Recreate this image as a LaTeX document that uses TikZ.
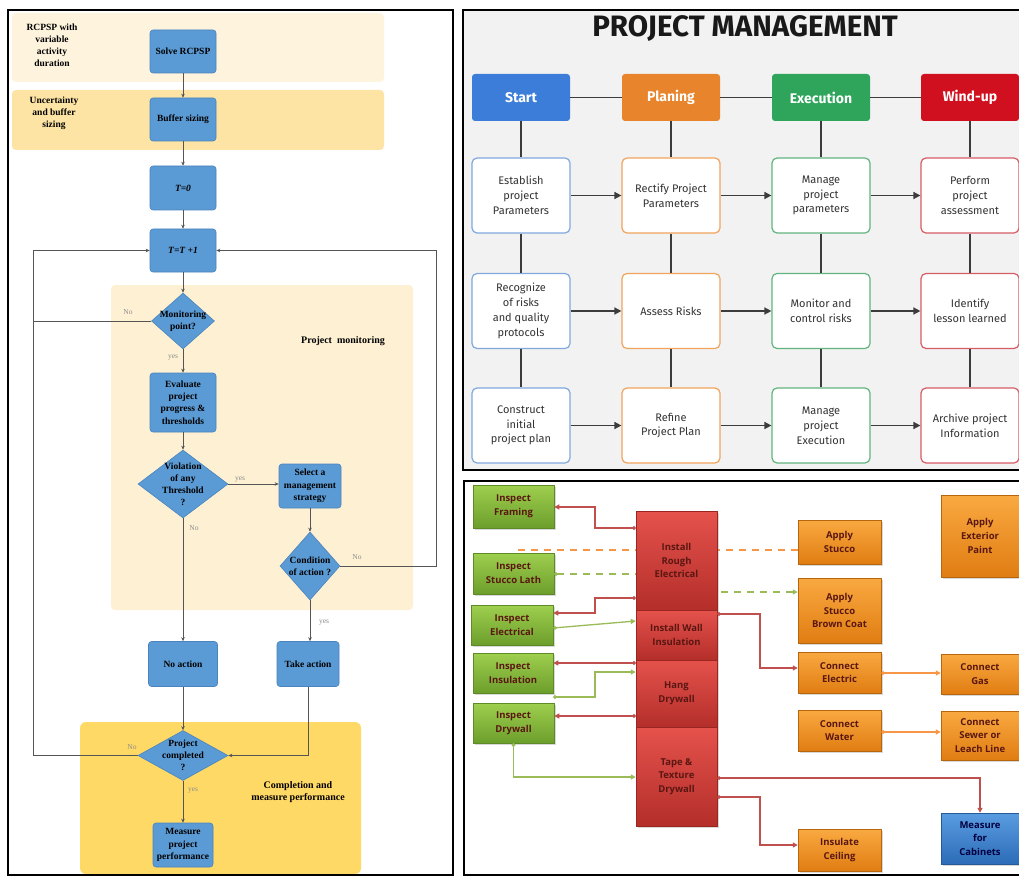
\documentclass[tikz,border=0pt]{standalone}
\usepackage{fontspec}
\setmainfont{Liberation Serif}
\newfontfamily\fira{Fira Sans}
\newfontfamily\osans{Open Sans}
\usetikzlibrary{shapes.geometric,arrows.meta,shadows}
\definecolor{lblue}{HTML}{5B9BD5}
\definecolor{lblueb}{HTML}{4A84BE}
\definecolor{bandA}{HTML}{FEF4DE}
\definecolor{bandB}{HTML}{FDE4A4}
\definecolor{bandC}{HTML}{FEF1D3}
\definecolor{bandD}{HTML}{FFD966}
\definecolor{lline}{HTML}{555555}
\definecolor{lgray}{HTML}{8C8C8C}
\definecolor{pmbg}{HTML}{F2F2F2}
\definecolor{cBlue}{HTML}{3B7DD8}
\definecolor{cOrange}{HTML}{E8842B}
\definecolor{cGreen}{HTML}{2FA55C}
\definecolor{cRed}{HTML}{D0101E}
\definecolor{bBlue}{HTML}{7FA8DE}
\definecolor{bOrange}{HTML}{F0A45C}
\definecolor{bGreen}{HTML}{62B47E}
\definecolor{bRed}{HTML}{D65C64}
\definecolor{pmline}{HTML}{3C3C3C}
\definecolor{pmtext}{HTML}{333333}
\definecolor{gTop}{HTML}{9FCF4E}
\definecolor{gBot}{HTML}{6C9E2C}
\definecolor{gBord}{HTML}{5E8A28}
\definecolor{rTop}{HTML}{E5524C}
\definecolor{rBot}{HTML}{B42E2A}
\definecolor{rBord}{HTML}{9A2622}
\definecolor{oTop}{HTML}{F9A941}
\definecolor{oBot}{HTML}{E07D12}
\definecolor{oBord}{HTML}{B8660E}
\definecolor{bTop}{HTML}{5A9CE0}
\definecolor{bBot}{HTML}{2C6CB8}
\definecolor{bBord}{HTML}{245A9A}
\definecolor{btxt}{HTML}{5A1712}
\definecolor{rcon}{HTML}{C0504D}
\definecolor{gcon}{HTML}{9BBB59}
\definecolor{ocon}{HTML}{F79646}
\tikzset{
  lbox/.style={rectangle, rounded corners=3pt, fill=lblue, draw=lblueb, line width=0.6pt,
    minimum width=66pt, minimum height=44pt, align=center, inner sep=1pt,
    font=\bfseries\fontsize{9.5}{12.3}\selectfont},
  ldia/.style={diamond, fill=lblue, draw=lblueb, line width=0.6pt, inner sep=0pt},
  ltxt/.style={align=center, inner sep=0pt, font=\bfseries\fontsize{9.5}{12}\selectfont},
  llab/.style={text=lgray, font=\fontsize{7.5}{8}\selectfont, inner sep=0pt},
  lcon/.style={draw=lline, line width=0.8pt, -{Stealth[length=4pt,width=3.5pt]}},
  hdr/.style={rectangle, rounded corners=3pt, minimum width=98pt, minimum height=47pt,
    text=white, font=\fira\bfseries\fontsize{14}{16}\selectfont},
  rbox/.style={rectangle, rounded corners=5pt, fill=white, line width=1.2pt,
    minimum width=98pt, minimum height=75pt, align=center, text=pmtext,
    font=\fira\fontsize{11}{14.8}\selectfont},
  pmcon/.style={draw=pmline, line width=1.6pt},
  pmarr/.style={draw=pmline, line width=1.6pt, -{Triangle[length=7pt,width=7pt]}},
  wbox/.style={rectangle, line width=0.5pt, align=center, inner sep=0pt, text=btxt,
    font=\osans\bfseries\fontsize{9.5}{13.8}\selectfont,
    drop shadow={opacity=0.3, shadow xshift=1.5pt, shadow yshift=-1.5pt}},
  gbox/.style={wbox, top color=gTop, bottom color=gBot, draw=gBord},
  rbx/.style={wbox, top color=rTop, bottom color=rBot, draw=rBord},
  obox/.style={wbox, top color=oTop, bottom color=oBot, draw=oBord},
  bbox/.style={wbox, top color=bTop, bottom color=bBot, draw=bBord},
  rl/.style={draw=rcon, line width=1.3pt, {Circle[length=3.5pt]}-{Triangle[length=5pt,width=5pt]}},
  gl/.style={draw=gcon, line width=1.3pt, {Circle[length=3.5pt]}-{Triangle[length=5pt,width=5pt]}},
  ol/.style={draw=ocon, line width=1.3pt, {Circle[length=3.5pt]}-{Triangle[length=5pt,width=5pt]}},
}
\begin{document}
\begin{tikzpicture}[x=1pt,y=-1pt]
\useasboundingbox (0,0) rectangle (1019,877);
\fill[white] (0,0) rectangle (1019,877);

% ================= LEFT PANEL =================
\fill[bandA, rounded corners=4pt] (12,13) rectangle (384,82);
\fill[bandB, rounded corners=4pt] (12,90) rectangle (384,150);
\fill[bandC, rounded corners=4pt] (111,285) rectangle (413,610);
\fill[bandD, rounded corners=6pt] (80,722) rectangle (361,874);

\node[ltxt] (lab1) at (52,45) {RCPSP with\\variable\\activity\\duration};
\node[ltxt] (lab2) at (54,113) {Uncertainty\\and buffer\\sizing};
\node[ltxt, font=\bfseries\fontsize{10}{12}\selectfont] (lab3) at (343,341) {Project\ \ monitoring};
\node[ltxt, font=\bfseries\fontsize{10}{12}\selectfont] (lab4) at (298,792) {Completion and\\measure performance};

\node[lbox, minimum height=43pt] (solve) at (183,51.5) {Solve RCPSP};
\node[lbox, minimum height=43pt] (buf) at (183,119.5) {Buffer sizing};
\node[lbox] (t0) at (183,188) {\itshape T=0};
\node[lbox, minimum height=43pt] (tt) at (183,250.5) {\itshape T=T +1};
\node[ldia, minimum width=63pt, minimum height=56pt] (mon) at (183,321) {};
\node[ltxt] (mont) at (mon) {Monitoring\\point?};
\node[lbox, minimum height=59pt] (eval) at (183,402.5) {Evaluate\\project\\progress \&\\thresholds};
\node[ldia, minimum width=90pt, minimum height=68pt] (viol) at (183,484) {};
\node[ltxt] (violt) at (viol) {Violation\\of any\\Threshold\\?};
\node[lbox, minimum width=62pt, minimum height=44pt] (sel) at (310,486) {Select a\\management\\strategy};
\node[ldia, minimum width=60pt, minimum height=68pt] (cond) at (310,566) {};
\node[ltxt] (condt) at (cond) {Condition\\of action ?};
\node[lbox, minimum width=69pt, minimum height=45pt] (noact) at (183,664) {No action};
\node[lbox, minimum width=62pt, minimum height=45pt] (take) at (308,664) {Take action};
\node[ldia, minimum width=90pt, minimum height=50pt] (pc) at (183,755.5) {};
\node[ltxt] (pct) at (pc) {Project\\completed\\?};
\node[lbox, minimum width=60pt, minimum height=44pt] (meas) at (183,845) {Measure\\project\\performance};

\draw[lcon] (solve) -- (buf);
\draw[lcon] (buf) -- (t0);
\draw[lcon] (t0) -- (tt);
\draw[lcon] (tt) -- (mon);
\draw[lcon] (mon) -- (eval);
\draw[lcon] (eval) -- (viol);
\draw[lcon] (viol) -- (sel.west |- viol);
\draw[lcon] (sel) -- (cond);
\draw[lcon] (cond) -- (take.north -| cond);
\draw[lcon] (viol) -- (noact);
\draw[lcon] (noact) -- (pc);
\draw[lcon] (take.south) |- (pc.east);
\draw[lcon] (pc) -- (meas);
\coordinate (LL) at (33,755.5);
\coordinate (LM) at (33,321);
\coordinate (RR) at (436,566);
\draw[lcon] (pc.west) -- (LL) |- (tt.west);
\draw[lcon, -] (mon.west) -- (LM);
\draw[lcon] (cond.east) -- (RR) |- (tt.east);

\node[llab] (n1) at (128,312) {No};
\node[llab] (y1) at (173,358) {yes};
\node[llab] (y2) at (240,480) {yes};
\node[llab] (n2) at (194,528) {No};
\node[llab] (n3) at (357,557) {No};
\node[llab] (y3) at (324,623) {yes};
\node[llab] (n4) at (132,747) {No};
\node[llab] (y4) at (193,791) {yes};

\draw[line width=2.2pt] (8,10) rectangle (453,875);

% ================= TOP RIGHT PANEL =================
\draw[fill=pmbg, line width=2.2pt] (463,10) rectangle (1030,470);
\node[font=\fira\bfseries\fontsize{29.5}{32}\selectfont, text=black!90] (title) at (745,29) {PROJECT MANAGEMENT};

\node[hdr, fill=cBlue] (h1) at (521,97.5) {Start};
\node[hdr, fill=cOrange] (h2) at (671,97.5) {Planing};
\node[hdr, fill=cGreen] (h3) at (821,97.5) {Execution};
\node[hdr, fill=cRed] (h4) at (970,97.5) {Wind-up};

\node[rbox, draw=bBlue] (a1) at (521,195.5) {Establish\\project\\Parameters};
\node[rbox, draw=bBlue] (a2) at (521,311) {Recognize\\of risks\\and quality\\protocols};
\node[rbox, draw=bBlue] (a3) at (521,425.5) {Construct\\initial\\project plan};
\node[rbox, draw=bOrange] (b1) at (671,195.5) {Rectify Project\\Parameters};
\node[rbox, draw=bOrange] (b2) at (671,311) {Assess Risks};
\node[rbox, draw=bOrange] (b3) at (671,425.5) {Refine\\Project Plan};
\node[rbox, draw=bGreen] (c1) at (821,195.5) {Manage\\project\\parameters};
\node[rbox, draw=bGreen] (c2) at (821,311) {Monitor and\\control risks};
\node[rbox, draw=bGreen] (c3) at (821,425.5) {Manage\\project\\Execution};
\node[rbox, draw=bRed] (d1) at (970,195.5) {Perform\\project\\assessment};
\node[rbox, draw=bRed] (d2) at (970,311) {Identify\\lesson learned};
\node[rbox, draw=bRed] (d3) at (970,425.5) {Archive project\\Information};

\draw[pmcon] (h1) -- (h2);
\draw[pmcon] (h2) -- (h3);
\draw[pmcon] (h3) -- (h4);
\foreach \c in {a,b,c,d}{
  \draw[pmcon] (\c1) -- (\c2);
  \draw[pmcon] (\c2) -- (\c3);
}
\draw[pmcon] (h1) -- (a1);
\draw[pmcon] (h2) -- (b1);
\draw[pmcon] (h3) -- (c1);
\draw[pmcon] (h4) -- (d1);
\foreach \r in {1,2,3}{
  \draw[pmarr] (a\r) -- (b\r);
  \draw[pmarr] (b\r) -- (c\r);
  \draw[pmarr] (c\r) -- (d\r);
}

% ================= BOTTOM RIGHT PANEL =================
\draw[line width=2.2pt] (464,481) rectangle (1030,875);

\node[gbox, minimum width=81pt, minimum height=43pt] (ifr) at (513.5,506.5) {Inspect\\Framing};
\node[gbox, minimum width=81pt, minimum height=41pt] (isl) at (513.5,573.5) {Inspect\\Stucco Lath};
\node[gbox, minimum width=82pt, minimum height=40pt] (iel) at (512,625) {Inspect\\Electrical};
\node[gbox, minimum width=80pt, minimum height=40pt] (iin) at (513,673) {Inspect\\Insulation};
\node[gbox, minimum width=81pt, minimum height=40pt] (idw) at (513.5,723) {Inspect\\Drywall};

% dashed links passing behind the red column
\coordinate (odl) at (518,550);
\node[obox, minimum width=83pt, minimum height=44pt] (ast) at (839.5,542) {Apply\\Stucco};
\node[obox, minimum width=83pt, minimum height=65pt] (asb) at (839.5,610.5) {Apply\\Stucco\\Brown Coat};
\draw[ocon, line width=1.5pt, dash pattern=on 7pt off 6pt] (odl) -- (ast.west |- odl);
\draw[gl, dash pattern=on 7pt off 6pt] (isl.east |- 0,574) -- (676,574) -- (676,592) -- (asb.west |- 0,592);

\node[rbx, minimum width=81pt, minimum height=99pt] (rre) at (676.5,560.5) {Install\\Rough\\Electrical};
\node[rbx, minimum width=81pt, minimum height=50pt] (iwi) at (676.5,635) {Install Wall\\Insulation};
\node[rbx, minimum width=81pt, minimum height=67pt] (hang) at (676.5,693.5) {Hang\\Drywall};
\node[rbx, minimum width=81pt, minimum height=99pt] (tape) at (676.5,776.5) {Tape \&\\Texture\\Drywall};

\node[obox, minimum width=78pt, minimum height=82pt] (aep) at (980,536) {Apply\\Exterior\\Paint};
\node[obox, minimum width=83pt, minimum height=41pt] (cel) at (839.5,672.5) {Connect\\Electric};
\node[obox, minimum width=78pt, minimum height=40pt] (cgas) at (980,674) {Connect\\Gas};
\node[obox, minimum width=83pt, minimum height=41pt] (cwa) at (839.5,730.5) {Connect\\Water};
\node[obox, minimum width=78pt, minimum height=49pt] (csw) at (980,735.5) {Connect\\Sewer or\\Leach Line};
\node[bbox, minimum width=78pt, minimum height=51pt, text=black!75!blue] (mfc) at (980,838.5) {Measure\\for\\Cabinets};
\node[obox, minimum width=83pt, minimum height=42pt] (ic) at (839.5,850) {Insulate\\Ceiling};

\draw[rl] (rre.west |- 0,528) -- (595,528) |- (ifr.east |- 0,507);
\draw[rl] (rre.west |- 0,598) -- (595,598) |- (iel.east |- 0,613);
\draw[gl] (iel.east |- 0,628) -- (iwi.west |- 0,621);
\draw[rl] (hang.west |- 0,663) -- (iin.east |- 0,663);
\draw[gl] (iin.east |- 0,697) -- (595,697) |- (hang.west |- 0,672);
\draw[rl] (hang.west |- 0,716) -- (idw.east |- 0,716);
\draw[gl] (idw.south) |- (tape.west |- 0,777);
\draw[rl] (iwi.east |- 0,614) -- (760,614) |- (cel.west |- 0,668);
\draw[ol] (cel.east |- 0,673) -- (cgas.west |- 0,673);
\draw[ol] (cwa.east |- 0,732) -- (csw.west |- 0,732);
\draw[rl] (tape.east |- 0,778) -| (mfc.north);
\draw[rl] (tape.east |- 0,797) -- (760,797) |- (ic.west |- 0,845);
\end{tikzpicture}
\end{document}
